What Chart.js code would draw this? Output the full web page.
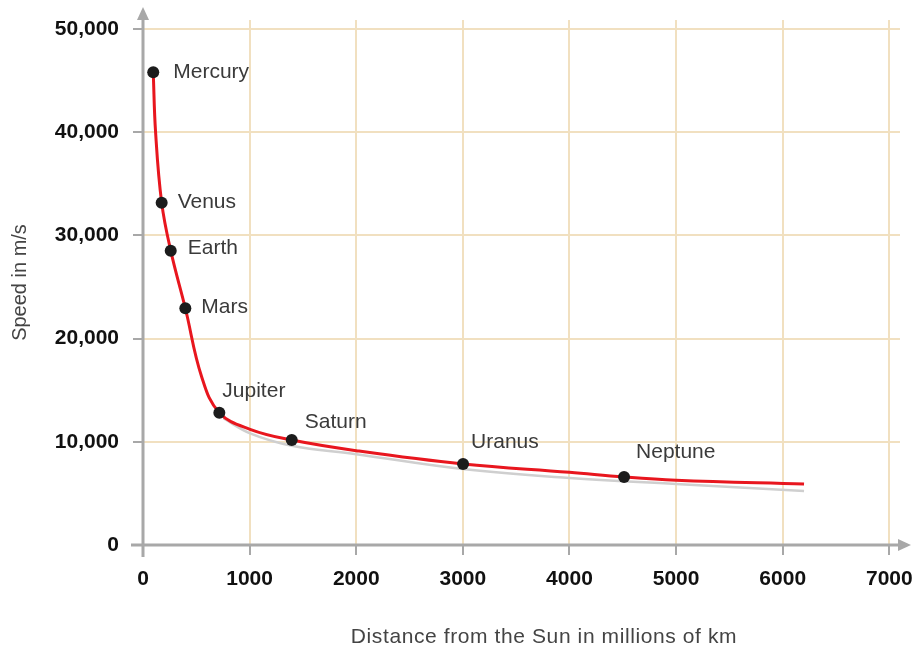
<!DOCTYPE html>
<html>
<head>
<meta charset="utf-8">
<script src="https://cdn.jsdelivr.net/npm/chart.js@4/dist/chart.umd.min.js"></script>
<style>
  body { margin: 0; background: #fff; }
  #wrap { width: 913px; height: 648px; }
</style>
</head>
<body>
<div id="wrap"><canvas id="planetChart" width="913" height="648"></canvas></div>
<script>
// planets and their readings (distance in millions of km, speed in m/s)
const planets = ["Mercury", "Venus", "Earth", "Mars", "Jupiter", "Saturn", "Uranus", "Neptune"];
const distances = [96, 175, 260, 397, 716, 1395, 3002, 4512];
const speeds = [45800, 33170, 28520, 22940, 12820, 10170, 7850, 6590];

// red fitted curve
const curveX = [96, 118, 175, 260, 397, 550, 716, 1004, 1395, 2000, 3002, 4000, 4512, 5000, 6200];
const curveY = [45800, 40000, 33170, 28520, 22940, 16310, 12820, 11210, 10170, 9140, 7850, 7050, 6590, 6280, 5910];

// grey shadow under the curve
const shadowX = [753, 1004, 1395, 2000, 3000, 4000, 5000, 6200];
const shadowY = [12280, 10820, 9620, 8800, 7360, 6490, 5910, 5230];

const xTicks = [0, 1000, 2000, 3000, 4000, 5000, 6000, 7000];
const yTicks = [0, 10000, 20000, 30000, 40000, 50000];

const FONT = "'Liberation Sans', Arial, Helvetica, sans-serif";
const labelOffsets = [[20, 0], [16, 0], [17, -2], [16, -1], [3, -21], [13, -18], [8, -22], [12, -25]];

const toPoints = (xs, ys) => xs.map((x, i) => ({ x: x, y: ys[i] }));

const axesPlugin = {
  id: "axes",
  beforeDatasetsDraw(chart) {
    const { ctx, scales: { x, y } } = chart;
    const x0 = x.getPixelForValue(0);
    const y0 = y.getPixelForValue(0);
    ctx.save();
    ctx.strokeStyle = "#a8a8a8";
    ctx.fillStyle = "#a8a8a8";
    ctx.lineWidth = 3;
    // y axis
    ctx.beginPath();
    ctx.moveTo(x0, y0 + 12);
    ctx.lineTo(x0, 18);
    ctx.stroke();
    ctx.beginPath();
    ctx.moveTo(x0, 7);
    ctx.lineTo(x0 - 6, 20);
    ctx.lineTo(x0 + 6, 20);
    ctx.closePath();
    ctx.fill();
    // x axis
    ctx.beginPath();
    ctx.moveTo(x0 - 12, y0);
    ctx.lineTo(900, y0);
    ctx.stroke();
    ctx.beginPath();
    ctx.moveTo(911, y0);
    ctx.lineTo(898, y0 - 6);
    ctx.lineTo(898, y0 + 6);
    ctx.closePath();
    ctx.fill();
    ctx.restore();
  },
  afterDatasetsDraw(chart) {
    const { ctx, scales: { x, y } } = chart;
    ctx.save();
    ctx.font = "21px " + FONT;
    ctx.fillStyle = "#3a3a3a";
    ctx.textBaseline = "middle";
    ctx.textAlign = "left";
    planets.forEach((p, i) => {
      const px = x.getPixelForValue(distances[i]) + labelOffsets[i][0];
      const py = y.getPixelForValue(speeds[i]) + labelOffsets[i][1];
      ctx.fillText(p, px, py);
    });
    // x axis title
    ctx.fillStyle = "#444";
    ctx.textAlign = "center";
    ctx.letterSpacing = "0.6px";
    ctx.fillText("Distance from the Sun in millions of km", 544, 637);
    ctx.restore();
  }
};

new Chart(document.getElementById("planetChart"), {
  type: "scatter",
  data: {
    datasets: [
      {
        label: "shadow",
        data: toPoints(shadowX, shadowY),
        showLine: true,
        borderColor: "#cfcfcf",
        borderWidth: 2.5,
        pointRadius: 0,
        tension: 0.4,
        order: 3
      },
      {
        label: "curve",
        data: toPoints(curveX, curveY),
        showLine: true,
        borderColor: "#e8161e",
        borderWidth: 3,
        pointRadius: 0,
        tension: 0.4,
        order: 2
      },
      {
        label: "planets",
        data: toPoints(distances, speeds),
        pointRadius: 6,
        pointBackgroundColor: "#1c1c1c",
        pointBorderWidth: 0,
        order: 1
      }
    ]
  },
  options: {
    responsive: false,
    animation: false,
    layout: { padding: { left: 0, top: 20, right: 13, bottom: 0 } },
    plugins: { legend: { display: false }, tooltip: { enabled: false } },
    scales: {
      x: {
        type: "linear",
        min: 0,
        max: 7100,
        afterBuildTicks: (axis) => { axis.ticks = xTicks.map(v => ({ value: v })); },
        afterFit: (scale) => { scale.height = 103; },
        border: { display: false },
        grid: { color: "#f1e0c0", lineWidth: 2, tickLength: 10, tickColor: "#a8a8a8", tickWidth: 2 },
        ticks: {
          padding: 0,
          color: "#111",
          // tall line height pushes the labels down without adding side padding
          font: { family: FONT, size: 21, weight: "bold", lineHeight: "48px" },
          callback: (v) => String(v),
          maxRotation: 0
        }
      },
      y: {
        type: "linear",
        min: 0,
        max: 50870,
        afterBuildTicks: (axis) => { axis.ticks = yTicks.map(v => ({ value: v })); },
        afterFit: (scale) => { scale.width = 143; },
        border: { display: false },
        grid: { color: "#f1e0c0", lineWidth: 2, tickLength: 10, tickColor: "#a8a8a8", tickWidth: 2 },
        ticks: {
          padding: 14,
          color: "#111",
          font: { family: FONT, size: 21, weight: "bold", lineHeight: "2px" },
          callback: (v) => v.toLocaleString("en-US")
        },
        title: {
          display: true,
          text: "Speed in m/s",
          color: "#444",
          font: { family: FONT, size: 20 },
          padding: { top: 8, bottom: 0 }
        }
      }
    }
  },
  plugins: [axesPlugin]
});
</script>
</body>
</html>
